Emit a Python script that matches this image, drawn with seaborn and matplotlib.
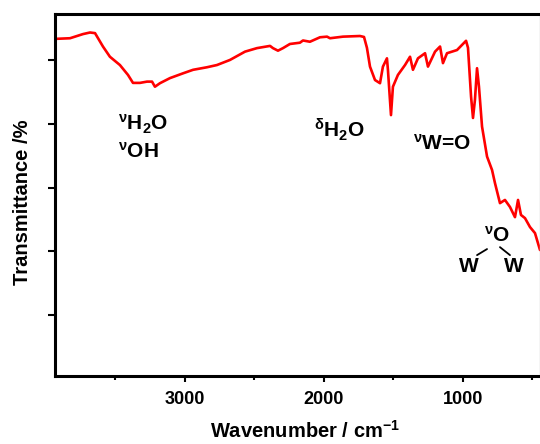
import matplotlib
matplotlib.use("Agg")
import matplotlib.pyplot as plt
import seaborn as sns
import pandas as pd
import numpy as np

wavenumber = [3935, 3827, 3734, 3683, 3647, 3590, 3540, 3468, 3410, 3374, 3324, 3273,
              3237, 3216, 3180, 3108, 3014, 2942, 2842, 2770, 2676, 2568, 2482, 2388,
              2367, 2331, 2295, 2245, 2173, 2151, 2101, 2029, 1978, 1957, 1863, 1741,
              1712, 1691, 1669, 1633, 1597, 1576, 1547, 1540, 1518, 1504, 1468, 1417,
              1381, 1360, 1324, 1273, 1252, 1201, 1165, 1144, 1115, 1043, 978, 964,
              942, 928, 914, 899, 885, 863, 827, 791, 770, 734, 698, 662, 626, 604,
              583, 554, 518, 482, 446]
transmittance = [106.6, 106.8, 108.1, 108.6, 108.4, 104.2, 101.0, 98.4, 95.3, 92.8, 92.8, 93.2,
                 93.2, 91.6, 92.7, 94.3, 95.8, 96.9, 97.7, 98.4, 100.0, 102.6, 103.7, 104.4,
                 103.7, 102.9, 103.7, 105.0, 105.4, 106.1, 105.7, 107.1, 107.3, 106.8, 107.3, 107.5,
                 107.2, 103.8, 97.9, 93.7, 92.7, 97.9, 100.5, 96.9, 82.7, 91.6, 95.3, 98.4,
                 101.0, 96.9, 100.5, 102.1, 97.9, 102.6, 104.2, 99.0, 102.1, 103.1, 106.0, 103.8,
                 88.5, 81.8, 87.5, 97.4, 91.6, 79.1, 69.7, 65.5, 61.4, 55.1, 56.1, 53.9, 50.7, 56.1,
                 51.4, 50.4, 47.6, 45.7, 40.4]

x_major = [3000, 2000, 1000]
x_minor = [3500, 2500, 1500, 500]
y_ticks = [20, 40, 60, 80, 100]

sns.set_theme(style="white")
plt.rcParams['font.family'] = ['Liberation Sans', 'DejaVu Sans']
plt.rcParams['font.weight'] = 'bold'
plt.rcParams['text.color'] = 'black'
plt.rcParams['axes.labelcolor'] = 'black'
plt.rcParams['xtick.color'] = 'black'
plt.rcParams['ytick.color'] = 'black'
plt.rcParams['mathtext.fontset'] = 'custom'
plt.rcParams['mathtext.rm'] = 'Liberation Sans:bold'
plt.rcParams['mathtext.it'] = 'Liberation Sans:bold'
plt.rcParams['mathtext.bf'] = 'Liberation Sans:bold'

fig = plt.figure(figsize=(5.4, 4.44), dpi=100)
ax = fig.add_axes([55/540, 1 - 376/444, 485/540, (376 - 14)/444])

df = pd.DataFrame({"wn": wavenumber, "T": transmittance})
sns.lineplot(data=df, x="wn", y="T", ax=ax, color="#ff0000", linewidth=1.9, sort=False)

ax.set_xlim(3935, 446)
ax.set_ylim(0.9, 114.4)
ax.set_xticks(x_major)
ax.set_xticks(x_minor, minor=True)
ax.set_xticklabels([str(v) for v in x_major], fontsize=13, fontweight='bold', color='black')
ax.set_yticks(y_ticks)
ax.set_yticklabels([])
ax.tick_params(axis='x', which='major', direction='out', length=4, width=1.5, bottom=True, pad=7, colors='black')
ax.tick_params(axis='x', which='minor', direction='out', length=3, width=1.5, bottom=True, colors='black')
ax.tick_params(axis='y', which='major', direction='out', length=5, width=1.5, left=True, colors='black')

for s in ['left', 'top', 'bottom']:
    ax.spines[s].set_linewidth(2.2)
    ax.spines[s].set_color('black')
ax.spines['right'].set_color('#cccccc')
ax.spines['right'].set_linewidth(1.0)

ax.set_xlabel(r"Wavenumber / cm$^{-1}$", fontsize=14.5, fontweight='bold', color='black')
ax.set_ylabel("Transmittance /%", fontsize=14.5, fontweight='bold', color='black')
ax.xaxis.set_label_coords(0.515, -0.122)
ax.yaxis.set_label_coords(-0.048, 0.48)

fs = 15
kw = dict(fontsize=fs, color='black')
ax.text(3482, 79.9, r"$^{\nu}$H$_{2}$O", ha='left', va='center', **kw)
ax.text(3482, 71.1, r"$^{\nu}$OH", ha='left', va='center', **kw)
ax.text(2072, 78.0, r"$^{\delta}$H$_{2}$O", ha='left', va='center', **kw)
ax.text(1360, 73.6, r"$^{\nu}$W=O", ha='left', va='center', **kw)
ax.text(849, 44.8, r"$^{\nu}$O", ha='left', va='center', **kw)
ax.text(957, 35.1, "W", ha='center', va='center', **kw)
ax.text(633, 35.1, "W", ha='center', va='center', **kw)
ax.plot([899, 827], [38.8, 40.7], color='black', lw=1.3)
ax.plot([734, 662], [41.3, 38.8], color='black', lw=1.3)

fig.savefig("out.png", dpi=100)
